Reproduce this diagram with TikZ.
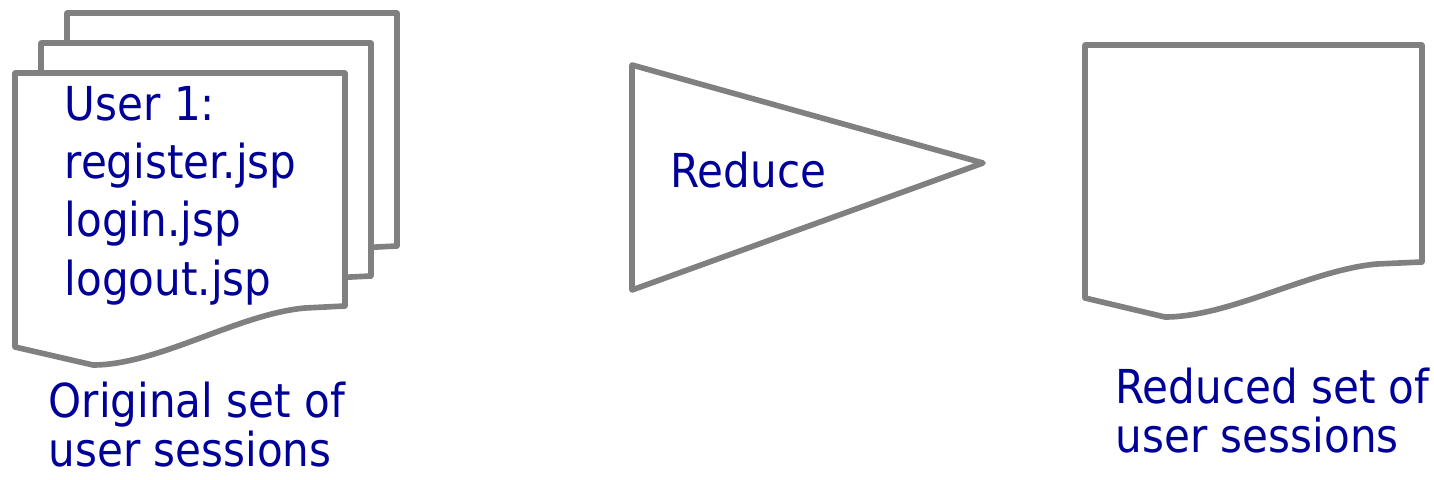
\documentclass[tikz,border=0pt]{standalone}
\usepackage{fontspec}
\setmainfont{DejaVu Sans Condensed}
\usepackage{tikz}
\usetikzlibrary{
  positioning,
  calc
}
\definecolor{sheetgray}{RGB}{128,128,128}
\definecolor{labelblue}{RGB}{0,0,153}

\begin{document}
\begin{tikzpicture}[
  x=0.01cm, y=-0.01cm,
  % Node styles
  sheet/.style={
    draw=sheetgray,
    fill=white,
    line width=1.6pt,
    line join=round,
  },
  funnel/.style={
    draw=sheetgray,
    line width=1.6pt,
    line join=round,
  },
  inner/.style={
    font=\fontsize{13.3}{16.5}\selectfont,
    text=labelblue,
    align=left,
    inner sep=0pt,
    anchor=base west,
  },
  caption/.style={
    font=\fontsize{13.3}{13.8}\selectfont,
    text=labelblue,
    align=left,
    inner sep=0pt,
    anchor=base west,
  },
]
\useasboundingbox (0,0) rectangle (1434,479);

% ── Stack of session sheets (back to front) ──
\foreach \dx/\dy in {52/-60, 26/-30, 0/0} {
  \draw[sheet, shift={(\dx,\dy)}]
    (15,73) -- (345,73) -- (345,306) -- (305,308)
    .. controls (238,314) and (158,365) .. (93,365)
    -- (15,347) -- cycle;
}

% anchored at the baseline of the last line
\node[inner] (session) at (64,295) {User 1:\\register.jsp\\login.jsp\\logout.jsp};
\node[caption] (original) at (48,466) {Original set of\\user sessions};

% ── Reduce step ──
\coordinate (tin) at (632,65);
\coordinate (tip) at (983,163);
\coordinate (bin) at (632,290);
\draw[funnel] (tin) -- (tip) -- (bin) -- cycle;
\node[caption] (reduce) at (670,188) {Reduce};

% ── Reduced sheet ──
\draw[sheet]
  (1085,45) -- (1422,45) -- (1422,262) -- (1377,264)
  .. controls (1310,270) and (1230,317) .. (1165,317)
  -- (1085,298) -- cycle;
\node[caption] (reduced) at (1115,452) {Reduced set of\\user sessions};

\end{tikzpicture}
\end{document}
